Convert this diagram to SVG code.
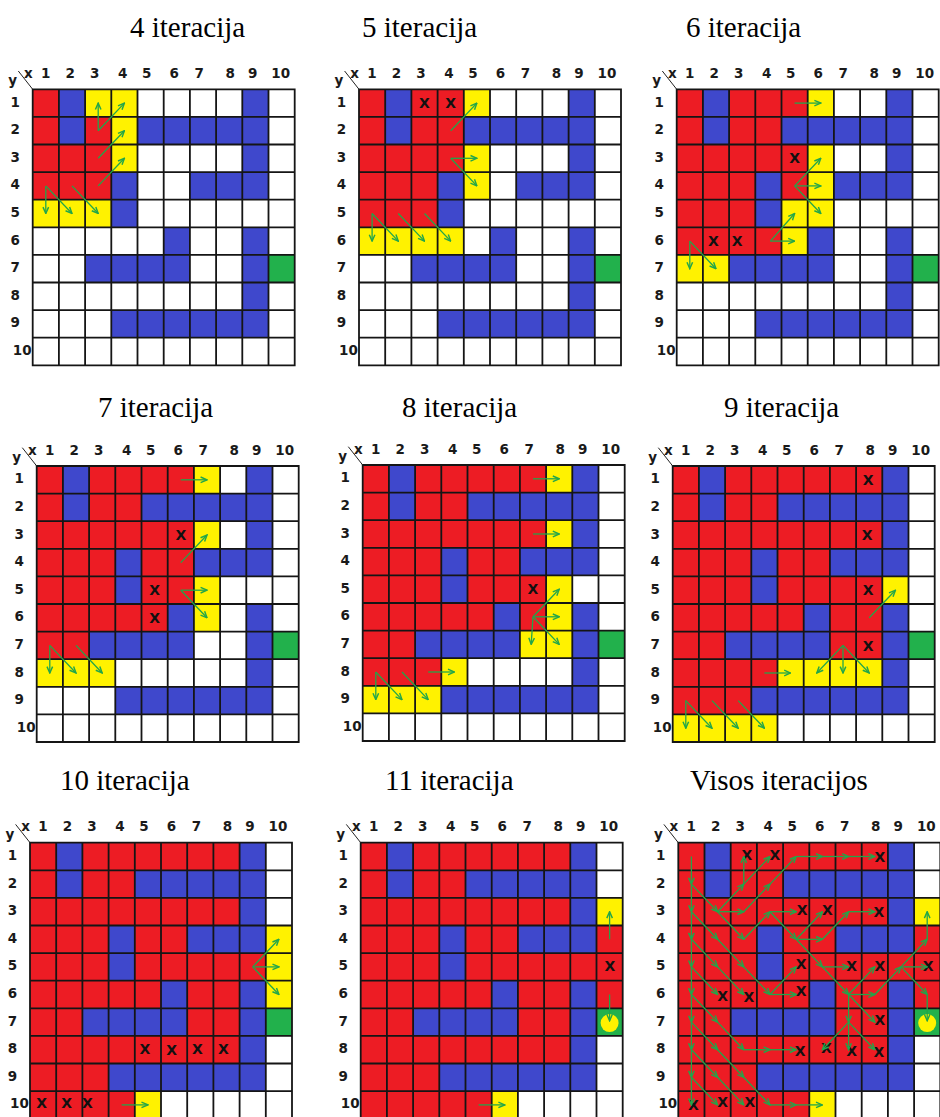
<svg xmlns="http://www.w3.org/2000/svg" xmlns:xlink="http://www.w3.org/1999/xlink" width="940" height="1117" viewBox="0 0 940 1117">
<style>
.t{font-family:"Liberation Serif","Times New Roman",serif;font-size:29px;fill:#000}
.l{font-family:"DejaVu Sans",Verdana,sans-serif;font-size:13.5px;font-weight:bold;fill:#1a1a1a;text-anchor:middle}
.x{font-family:"DejaVu Sans",Verdana,sans-serif;font-size:14px;font-weight:bold;fill:#111;text-anchor:middle}
.r{fill:#ED1C24}.b{fill:#3F48CC}.y{fill:#FFF200}.g{fill:#22B14C}
.gl{fill:none;stroke:#151515;stroke-width:1.8;stroke-linecap:square}
.a line{stroke:#22A64A;stroke-width:1.3;marker-end:url(#ah)}
</style>
<defs>
<marker id="ah" viewBox="0 0 10 10" refX="9" refY="5" markerWidth="8" markerHeight="8" markerUnits="userSpaceOnUse" orient="auto">
<path d="M1,1.5 L9,5 L1,8.5" fill="none" stroke="#22A64A" stroke-width="1.8"/>
</marker>
<g id="maze">
<rect x="0" y="0" width="262" height="276" fill="#fff"/>
<rect class="b" x="26.2" y="0" width="26.2" height="55.2"/>
<rect class="b" x="209.6" y="0" width="26.2" height="27.6"/>
<rect class="b" x="104.8" y="27.6" width="131" height="27.6"/>
<rect class="b" x="209.6" y="55.2" width="26.2" height="27.6"/>
<rect class="b" x="78.6" y="82.8" width="26.2" height="55.2"/>
<rect class="b" x="157.2" y="82.8" width="78.6" height="27.6"/>
<rect class="b" x="131" y="138" width="26.2" height="27.6"/>
<rect class="b" x="209.6" y="138" width="26.2" height="82.8"/>
<rect class="b" x="52.4" y="165.6" width="104.8" height="27.6"/>
<rect class="b" x="78.6" y="220.8" width="157.2" height="27.6"/>
<rect class="g" x="235.8" y="165.6" width="26.2" height="27.6"/>
</g>
<path id="grid" class="gl" d="M0 0V276M26.2 0V276M52.4 0V276M78.6 0V276M104.8 0V276M131 0V276M157.2 0V276M183.4 0V276M209.6 0V276M235.8 0V276M262 0V276M0 0H262M0 27.6H262M0 55.2H262M0 82.8H262M0 110.4H262M0 138H262M0 165.6H262M0 193.2H262M0 220.8H262M0 248.4H262M0 276H262"/>
<g id="labels">
<path d="M-14.4,-18.3 L0,0" stroke="#222" stroke-width="1" fill="none"/>
<text class="l" x="-4.4" y="-11.5">x</text>
<text class="l" x="-20" y="-4">y</text>
<text class="l" x="13" y="-11.5">1</text>
<text class="l" x="37.5" y="-11.5">2</text>
<text class="l" x="62" y="-11.5">3</text>
<text class="l" x="90" y="-11.5">4</text>
<text class="l" x="114" y="-11.5">5</text>
<text class="l" x="141.5" y="-11.5">6</text>
<text class="l" x="166.5" y="-11.5">7</text>
<text class="l" x="197.5" y="-11.5">8</text>
<text class="l" x="220" y="-11.5">9</text>
<text class="l" x="248" y="-11.5">10</text>
<text class="l" x="-17.5" y="17.3">1</text>
<text class="l" x="-17.5" y="44.9">2</text>
<text class="l" x="-17.5" y="72.5">3</text>
<text class="l" x="-17.5" y="100.1">4</text>
<text class="l" x="-17.5" y="127.7">5</text>
<text class="l" x="-17.5" y="155.3">6</text>
<text class="l" x="-17.5" y="182.9">7</text>
<text class="l" x="-17.5" y="210.5">8</text>
<text class="l" x="-17.5" y="238.1">9</text>
<text class="l" x="-10.5" y="265.7">10</text>
</g>
<g id="final">
<rect class="r" x="0" y="0" width="26.2" height="55.2"/>
<rect class="r" x="52.4" y="0" width="157.2" height="27.6"/>
<rect class="r" x="52.4" y="27.6" width="52.4" height="27.6"/>
<rect class="r" x="0" y="55.2" width="209.6" height="27.6"/>
<rect class="r" x="0" y="82.8" width="78.6" height="55.2"/>
<rect class="r" x="104.8" y="82.8" width="52.4" height="27.6"/>
<rect class="r" x="235.8" y="82.8" width="26.2" height="82.8"/>
<rect class="r" x="104.8" y="110.4" width="131" height="27.6"/>
<rect class="r" x="0" y="138" width="131" height="27.6"/>
<rect class="r" x="157.2" y="138" width="52.4" height="55.2"/>
<rect class="r" x="0" y="165.6" width="52.4" height="27.6"/>
<rect class="r" x="0" y="193.2" width="209.6" height="27.6"/>
<rect class="r" x="0" y="220.8" width="78.6" height="27.6"/>
<rect class="r" x="0" y="248.4" width="131" height="27.6"/>
<rect class="y" x="235.8" y="55.2" width="26.2" height="27.6"/>
<rect class="y" x="131" y="248.4" width="26.2" height="27.6"/>
</g>
</defs>

<rect x="0" y="0" width="940" height="1117" fill="#fff"/>

<g id="panel-4">
<text class="t" x="130" y="37">4 iteracija</text>
<g transform="translate(32.7,89.3)">
<use href="#maze"/>
<rect class="r" x="0" y="0" width="26.2" height="55.2"/>
<rect class="r" x="52.4" y="27.6" width="26.2" height="27.6"/>
<rect class="r" x="0" y="55.2" width="78.6" height="55.2"/>
<rect class="y" x="52.4" y="0" width="52.4" height="27.6"/>
<rect class="y" x="78.6" y="27.6" width="26.2" height="55.2"/>
<rect class="y" x="0" y="110.4" width="78.6" height="27.6"/>
<use href="#grid"/>
<use href="#labels"/>
</g>
</g>

<g id="panel-5">
<text class="t" x="362" y="37">5 iteracija</text>
<g transform="translate(359,89.3)">
<use href="#maze"/>
<rect class="r" x="0" y="0" width="26.2" height="55.2"/>
<rect class="r" x="52.4" y="0" width="52.4" height="55.2"/>
<rect class="r" x="0" y="55.2" width="104.8" height="27.6"/>
<rect class="r" x="0" y="82.8" width="78.6" height="55.2"/>
<rect class="y" x="104.8" y="0" width="26.2" height="27.6"/>
<rect class="y" x="104.8" y="55.2" width="26.2" height="55.2"/>
<rect class="y" x="0" y="138" width="104.8" height="27.6"/>
<use href="#grid"/>
<use href="#labels"/>
<text class="x" x="65.5" y="19">X</text>
<text class="x" x="91.7" y="19">X</text>
</g>
</g>

<g id="panel-6">
<text class="t" x="686" y="37">6 iteracija</text>
<g transform="translate(676.7,89.3)">
<use href="#maze"/>
<rect class="r" x="0" y="0" width="26.2" height="55.2"/>
<rect class="r" x="52.4" y="0" width="78.6" height="27.6"/>
<rect class="r" x="52.4" y="27.6" width="52.4" height="27.6"/>
<rect class="r" x="0" y="55.2" width="131" height="27.6"/>
<rect class="r" x="0" y="82.8" width="78.6" height="55.2"/>
<rect class="r" x="104.8" y="82.8" width="26.2" height="27.6"/>
<rect class="r" x="0" y="138" width="104.8" height="27.6"/>
<rect class="y" x="131" y="0" width="26.2" height="27.6"/>
<rect class="y" x="131" y="55.2" width="26.2" height="82.8"/>
<rect class="y" x="104.8" y="110.4" width="26.2" height="55.2"/>
<rect class="y" x="0" y="165.6" width="52.4" height="27.6"/>
<use href="#grid"/>
<use href="#labels"/>
<text class="x" x="117.9" y="74.2">X</text>
<text class="x" x="36.6" y="157">X</text>
<text class="x" x="60.5" y="157">X</text>
</g>
</g>

<g id="panel-7">
<text class="t" x="98" y="417">7 iteracija</text>
<g transform="translate(36.7,466)">
<use href="#maze"/>
<rect class="r" x="0" y="0" width="26.2" height="55.2"/>
<rect class="r" x="52.4" y="0" width="104.8" height="27.6"/>
<rect class="r" x="52.4" y="27.6" width="52.4" height="27.6"/>
<rect class="r" x="0" y="55.2" width="157.2" height="27.6"/>
<rect class="r" x="0" y="82.8" width="78.6" height="55.2"/>
<rect class="r" x="104.8" y="82.8" width="52.4" height="55.2"/>
<rect class="r" x="0" y="138" width="131" height="27.6"/>
<rect class="r" x="0" y="165.6" width="52.4" height="27.6"/>
<rect class="y" x="157.2" y="0" width="26.2" height="27.6"/>
<rect class="y" x="157.2" y="55.2" width="26.2" height="27.6"/>
<rect class="y" x="157.2" y="110.4" width="26.2" height="55.2"/>
<rect class="y" x="0" y="193.2" width="78.6" height="27.6"/>
<use href="#grid"/>
<use href="#labels"/>
<text class="x" x="144.1" y="74.2">X</text>
<text class="x" x="117.9" y="129.4">X</text>
<text class="x" x="117.9" y="157">X</text>
</g>
</g>

<g id="panel-8">
<text class="t" x="402" y="417">8 iteracija</text>
<g transform="translate(362.7,465)">
<use href="#maze"/>
<rect class="r" x="0" y="0" width="26.2" height="55.2"/>
<rect class="r" x="52.4" y="0" width="131" height="27.6"/>
<rect class="r" x="52.4" y="27.6" width="52.4" height="27.6"/>
<rect class="r" x="0" y="55.2" width="183.4" height="27.6"/>
<rect class="r" x="0" y="82.8" width="78.6" height="55.2"/>
<rect class="r" x="104.8" y="82.8" width="52.4" height="27.6"/>
<rect class="r" x="104.8" y="110.4" width="78.6" height="27.6"/>
<rect class="r" x="0" y="138" width="131" height="27.6"/>
<rect class="r" x="157.2" y="138" width="26.2" height="27.6"/>
<rect class="r" x="0" y="165.6" width="52.4" height="27.6"/>
<rect class="r" x="0" y="193.2" width="78.6" height="27.6"/>
<rect class="y" x="183.4" y="0" width="26.2" height="27.6"/>
<rect class="y" x="183.4" y="55.2" width="26.2" height="27.6"/>
<rect class="y" x="183.4" y="110.4" width="26.2" height="55.2"/>
<rect class="y" x="157.2" y="165.6" width="52.4" height="27.6"/>
<rect class="y" x="78.6" y="193.2" width="26.2" height="27.6"/>
<rect class="y" x="0" y="220.8" width="78.6" height="27.6"/>
<use href="#grid"/>
<use href="#labels"/>
<text class="x" x="170.3" y="129.4">X</text>
</g>
</g>

<g id="panel-9">
<text class="t" x="724" y="417">9 iteracija</text>
<g transform="translate(672.7,466)">
<use href="#maze"/>
<rect class="r" x="0" y="0" width="26.2" height="55.2"/>
<rect class="r" x="52.4" y="0" width="157.2" height="27.6"/>
<rect class="r" x="52.4" y="27.6" width="52.4" height="27.6"/>
<rect class="r" x="0" y="55.2" width="209.6" height="27.6"/>
<rect class="r" x="0" y="82.8" width="78.6" height="55.2"/>
<rect class="r" x="104.8" y="82.8" width="52.4" height="27.6"/>
<rect class="r" x="104.8" y="110.4" width="104.8" height="27.6"/>
<rect class="r" x="0" y="138" width="131" height="27.6"/>
<rect class="r" x="157.2" y="138" width="52.4" height="55.2"/>
<rect class="r" x="0" y="165.6" width="52.4" height="27.6"/>
<rect class="r" x="0" y="193.2" width="104.8" height="27.6"/>
<rect class="r" x="0" y="220.8" width="78.6" height="27.6"/>
<rect class="y" x="209.6" y="110.4" width="26.2" height="27.6"/>
<rect class="y" x="104.8" y="193.2" width="104.8" height="27.6"/>
<rect class="y" x="0" y="248.4" width="104.8" height="27.6"/>
<use href="#grid"/>
<use href="#labels"/>
<text class="x" x="195.5" y="19">X</text>
<text class="x" x="194.5" y="74.2">X</text>
<text class="x" x="195.5" y="129.4">X</text>
<text class="x" x="195.5" y="184.6">X</text>
</g>
</g>

<g id="panel-10">
<text class="t" x="60" y="790">10 iteracija</text>
<g transform="translate(30,842.7)">
<use href="#maze"/>
<rect class="r" x="0" y="0" width="26.2" height="55.2"/>
<rect class="r" x="52.4" y="0" width="157.2" height="27.6"/>
<rect class="r" x="52.4" y="27.6" width="52.4" height="27.6"/>
<rect class="r" x="0" y="55.2" width="209.6" height="27.6"/>
<rect class="r" x="0" y="82.8" width="78.6" height="55.2"/>
<rect class="r" x="104.8" y="82.8" width="52.4" height="27.6"/>
<rect class="r" x="104.8" y="110.4" width="131" height="27.6"/>
<rect class="r" x="0" y="138" width="131" height="27.6"/>
<rect class="r" x="157.2" y="138" width="52.4" height="55.2"/>
<rect class="r" x="0" y="165.6" width="52.4" height="27.6"/>
<rect class="r" x="0" y="193.2" width="209.6" height="27.6"/>
<rect class="r" x="0" y="220.8" width="78.6" height="27.6"/>
<rect class="r" x="0" y="248.4" width="104.8" height="27.6"/>
<rect class="y" x="235.8" y="82.8" width="26.2" height="82.8"/>
<rect class="y" x="104.8" y="248.4" width="26.2" height="27.6"/>
<use href="#grid"/>
<use href="#labels"/>
<text class="x" x="115" y="210.9">X</text>
<text class="x" x="141.7" y="212.5">X</text>
<text class="x" x="167.3" y="210.9">X</text>
<text class="x" x="193.3" y="210.9">X</text>
<text class="x" x="11.7" y="264.9">X</text>
<text class="x" x="36.7" y="264.9">X</text>
<text class="x" x="57.3" y="264.9">X</text>
</g>
</g>

<g id="panel-11">
<text class="t" x="385" y="790">11 iteracija</text>
<g transform="translate(360.7,842.7)">
<use href="#maze"/>
<use href="#final"/>
<use href="#grid"/>
<use href="#labels"/>
<circle cx="248.9" cy="180.4" r="9" fill="#FFF200"/>
<text class="x" x="249.3" y="128.2">X</text>
</g>
</g>

<g id="panel-all">
<text class="t" x="690" y="790">Visos iteracijos</text>
<g transform="translate(678.3,842.7)">
<use href="#maze"/>
<use href="#final"/>
<use href="#grid"/>
<use href="#labels"/>
<circle cx="248.9" cy="180.4" r="9" fill="#FFF200"/>
<text class="x" x="68.5" y="17">X</text>
<text class="x" x="96.7" y="17">X</text>
<text class="x" x="201.5" y="19">X</text>
<text class="x" x="123.9" y="72.2">X</text>
<text class="x" x="149.1" y="72.2">X</text>
<text class="x" x="200.5" y="74.2">X</text>
<text class="x" x="122.9" y="126.4">X</text>
<text class="x" x="173.3" y="128.4">X</text>
<text class="x" x="201.5" y="128.4">X</text>
<text class="x" x="249.9" y="128.4">X</text>
<text class="x" x="44.3" y="158">X</text>
<text class="x" x="70.5" y="159">X</text>
<text class="x" x="122.9" y="153">X</text>
<text class="x" x="201.5" y="182.6">X</text>
<text class="x" x="121.9" y="213.2">X</text>
<text class="x" x="148.1" y="210.2">X</text>
<text class="x" x="173.3" y="213.2">X</text>
<text class="x" x="200.5" y="214.2">X</text>
<text class="x" x="15.1" y="267.4">X</text>
<text class="x" x="44.3" y="264.4">X</text>
<text class="x" x="71.5" y="264.4">X</text>
</g>
</g>

<g id="connectors" class="a">
<g transform="translate(32.7,89.3)">
<line x1="65.5" y1="41.4" x2="65.5" y2="13.8"/>
<line x1="65.5" y1="41.4" x2="91.7" y2="13.8"/>
<line x1="65.5" y1="69" x2="91.7" y2="41.4"/>
<line x1="65.5" y1="96.6" x2="91.7" y2="69"/>
<line x1="13.1" y1="96.6" x2="13.1" y2="124.2"/>
<line x1="13.1" y1="96.6" x2="39.3" y2="124.2"/>
<line x1="39.3" y1="96.6" x2="65.5" y2="124.2"/>
</g>
<g transform="translate(359,89.3)">
<line x1="91.7" y1="41.4" x2="117.9" y2="13.8"/>
<line x1="91.7" y1="69" x2="117.9" y2="69"/>
<line x1="91.7" y1="69" x2="117.9" y2="96.6"/>
<line x1="13.1" y1="124.2" x2="13.1" y2="151.8"/>
<line x1="13.1" y1="124.2" x2="39.3" y2="151.8"/>
<line x1="39.3" y1="124.2" x2="65.5" y2="151.8"/>
<line x1="65.5" y1="124.2" x2="91.7" y2="151.8"/>
</g>
<g transform="translate(676.7,89.3)">
<line x1="117.9" y1="13.8" x2="144.1" y2="13.8"/>
<line x1="117.9" y1="96.6" x2="144.1" y2="69"/>
<line x1="117.9" y1="96.6" x2="144.1" y2="96.6"/>
<line x1="117.9" y1="96.6" x2="144.1" y2="124.2"/>
<line x1="93.7" y1="151.8" x2="117.9" y2="124.2"/>
<line x1="93.7" y1="151.8" x2="117.9" y2="151.8"/>
<line x1="13.1" y1="151.8" x2="13.1" y2="179.4"/>
<line x1="13.1" y1="151.8" x2="39.3" y2="179.4"/>
</g>
<g transform="translate(36.7,466)">
<line x1="144.1" y1="13.8" x2="170.3" y2="13.8"/>
<line x1="144.1" y1="96.6" x2="170.3" y2="69"/>
<line x1="144.1" y1="124.2" x2="170.3" y2="124.2"/>
<line x1="144.1" y1="124.2" x2="170.3" y2="151.8"/>
<line x1="13.1" y1="179.4" x2="13.1" y2="207"/>
<line x1="13.1" y1="179.4" x2="39.3" y2="207"/>
<line x1="39.3" y1="179.4" x2="65.5" y2="207"/>
</g>
<g transform="translate(362.7,465)">
<line x1="170.3" y1="13.8" x2="196.5" y2="13.8"/>
<line x1="170.3" y1="69" x2="196.5" y2="69"/>
<line x1="170.3" y1="151.8" x2="196.5" y2="124.2"/>
<line x1="170.3" y1="151.8" x2="196.5" y2="151.8"/>
<line x1="170.3" y1="151.8" x2="168.5" y2="179.4"/>
<line x1="170.3" y1="151.8" x2="196.5" y2="179.4"/>
<line x1="65.5" y1="207" x2="91.7" y2="207"/>
<line x1="13.1" y1="207" x2="13.1" y2="234.6"/>
<line x1="13.1" y1="207" x2="39.3" y2="234.6"/>
<line x1="39.3" y1="207" x2="65.5" y2="234.6"/>
</g>
<g transform="translate(672.7,466)">
<line x1="196.5" y1="151.8" x2="222.7" y2="124.2"/>
<line x1="91.7" y1="207" x2="117.9" y2="207"/>
<line x1="170.3" y1="179.4" x2="144.1" y2="207"/>
<line x1="170.3" y1="179.4" x2="170.3" y2="207"/>
<line x1="170.3" y1="179.4" x2="196.5" y2="207"/>
<line x1="13.1" y1="234.6" x2="13.1" y2="262.2"/>
<line x1="13.1" y1="234.6" x2="39.3" y2="262.2"/>
<line x1="39.3" y1="234.6" x2="65.5" y2="262.2"/>
<line x1="65.5" y1="234.6" x2="91.7" y2="262.2"/>
</g>
<g transform="translate(30,842.7)">
<line x1="222.7" y1="124.2" x2="248.9" y2="96.6"/>
<line x1="222.7" y1="124.2" x2="248.9" y2="124.2"/>
<line x1="222.7" y1="124.2" x2="248.9" y2="151.8"/>
<line x1="91.7" y1="262.2" x2="117.9" y2="262.2"/>
</g>
<g transform="translate(360.7,842.7)">
<line x1="248.9" y1="96.6" x2="248.9" y2="69"/>
<line x1="248.9" y1="151.8" x2="248.9" y2="178"/>
<line x1="117.9" y1="262.2" x2="144.1" y2="262.2"/>
</g>
<g transform="translate(678.3,842.7)">
<line x1="13.1" y1="13.8" x2="13.1" y2="41.4"/>
<line x1="13.1" y1="41.4" x2="13.1" y2="69"/>
<line x1="13.1" y1="41.4" x2="39.3" y2="69"/>
<line x1="13.1" y1="69" x2="13.1" y2="96.6"/>
<line x1="13.1" y1="69" x2="39.3" y2="96.6"/>
<line x1="39.3" y1="69" x2="65.5" y2="41.4"/>
<line x1="39.3" y1="69" x2="65.5" y2="69"/>
<line x1="39.3" y1="69" x2="65.5" y2="96.6"/>
<line x1="65.5" y1="41.4" x2="65.5" y2="13.8"/>
<line x1="65.5" y1="41.4" x2="91.7" y2="13.8"/>
<line x1="65.5" y1="69" x2="91.7" y2="41.4"/>
<line x1="65.5" y1="96.6" x2="91.7" y2="69"/>
<line x1="13.1" y1="96.6" x2="13.1" y2="124.2"/>
<line x1="13.1" y1="96.6" x2="39.3" y2="124.2"/>
<line x1="39.3" y1="96.6" x2="65.5" y2="124.2"/>
<line x1="91.7" y1="41.4" x2="117.9" y2="13.8"/>
<line x1="91.7" y1="69" x2="117.9" y2="69"/>
<line x1="91.7" y1="69" x2="117.9" y2="96.6"/>
<line x1="13.1" y1="124.2" x2="13.1" y2="151.8"/>
<line x1="13.1" y1="124.2" x2="39.3" y2="151.8"/>
<line x1="39.3" y1="124.2" x2="65.5" y2="151.8"/>
<line x1="65.5" y1="124.2" x2="91.7" y2="151.8"/>
<line x1="117.9" y1="13.8" x2="144.1" y2="13.8"/>
<line x1="117.9" y1="96.6" x2="144.1" y2="69"/>
<line x1="117.9" y1="96.6" x2="144.1" y2="96.6"/>
<line x1="117.9" y1="96.6" x2="144.1" y2="124.2"/>
<line x1="91.7" y1="151.8" x2="117.9" y2="124.2"/>
<line x1="91.7" y1="151.8" x2="117.9" y2="151.8"/>
<line x1="13.1" y1="151.8" x2="13.1" y2="179.4"/>
<line x1="13.1" y1="151.8" x2="39.3" y2="179.4"/>
<line x1="144.1" y1="13.8" x2="170.3" y2="13.8"/>
<line x1="144.1" y1="96.6" x2="170.3" y2="69"/>
<line x1="144.1" y1="124.2" x2="170.3" y2="124.2"/>
<line x1="144.1" y1="124.2" x2="170.3" y2="151.8"/>
<line x1="13.1" y1="179.4" x2="13.1" y2="207"/>
<line x1="13.1" y1="179.4" x2="39.3" y2="207"/>
<line x1="39.3" y1="179.4" x2="65.5" y2="207"/>
<line x1="170.3" y1="13.8" x2="196.5" y2="13.8"/>
<line x1="170.3" y1="69" x2="196.5" y2="69"/>
<line x1="170.3" y1="151.8" x2="196.5" y2="124.2"/>
<line x1="170.3" y1="151.8" x2="196.5" y2="151.8"/>
<line x1="170.3" y1="151.8" x2="170.3" y2="179.4"/>
<line x1="170.3" y1="151.8" x2="196.5" y2="179.4"/>
<line x1="65.5" y1="207" x2="91.7" y2="207"/>
<line x1="13.1" y1="207" x2="13.1" y2="234.6"/>
<line x1="13.1" y1="207" x2="39.3" y2="234.6"/>
<line x1="39.3" y1="207" x2="65.5" y2="234.6"/>
<line x1="196.5" y1="151.8" x2="222.7" y2="124.2"/>
<line x1="91.7" y1="207" x2="117.9" y2="207"/>
<line x1="170.3" y1="179.4" x2="144.1" y2="207"/>
<line x1="170.3" y1="179.4" x2="170.3" y2="207"/>
<line x1="170.3" y1="179.4" x2="196.5" y2="207"/>
<line x1="13.1" y1="234.6" x2="13.1" y2="262.2"/>
<line x1="13.1" y1="234.6" x2="39.3" y2="262.2"/>
<line x1="39.3" y1="234.6" x2="65.5" y2="262.2"/>
<line x1="65.5" y1="234.6" x2="91.7" y2="262.2"/>
<line x1="222.7" y1="124.2" x2="248.9" y2="96.6"/>
<line x1="222.7" y1="124.2" x2="248.9" y2="124.2"/>
<line x1="222.7" y1="124.2" x2="248.9" y2="151.8"/>
<line x1="91.7" y1="262.2" x2="117.9" y2="262.2"/>
<line x1="248.9" y1="96.6" x2="248.9" y2="69"/>
<line x1="248.9" y1="151.8" x2="248.9" y2="178"/>
<line x1="117.9" y1="262.2" x2="144.1" y2="262.2"/>
</g>
</g>
</svg>
